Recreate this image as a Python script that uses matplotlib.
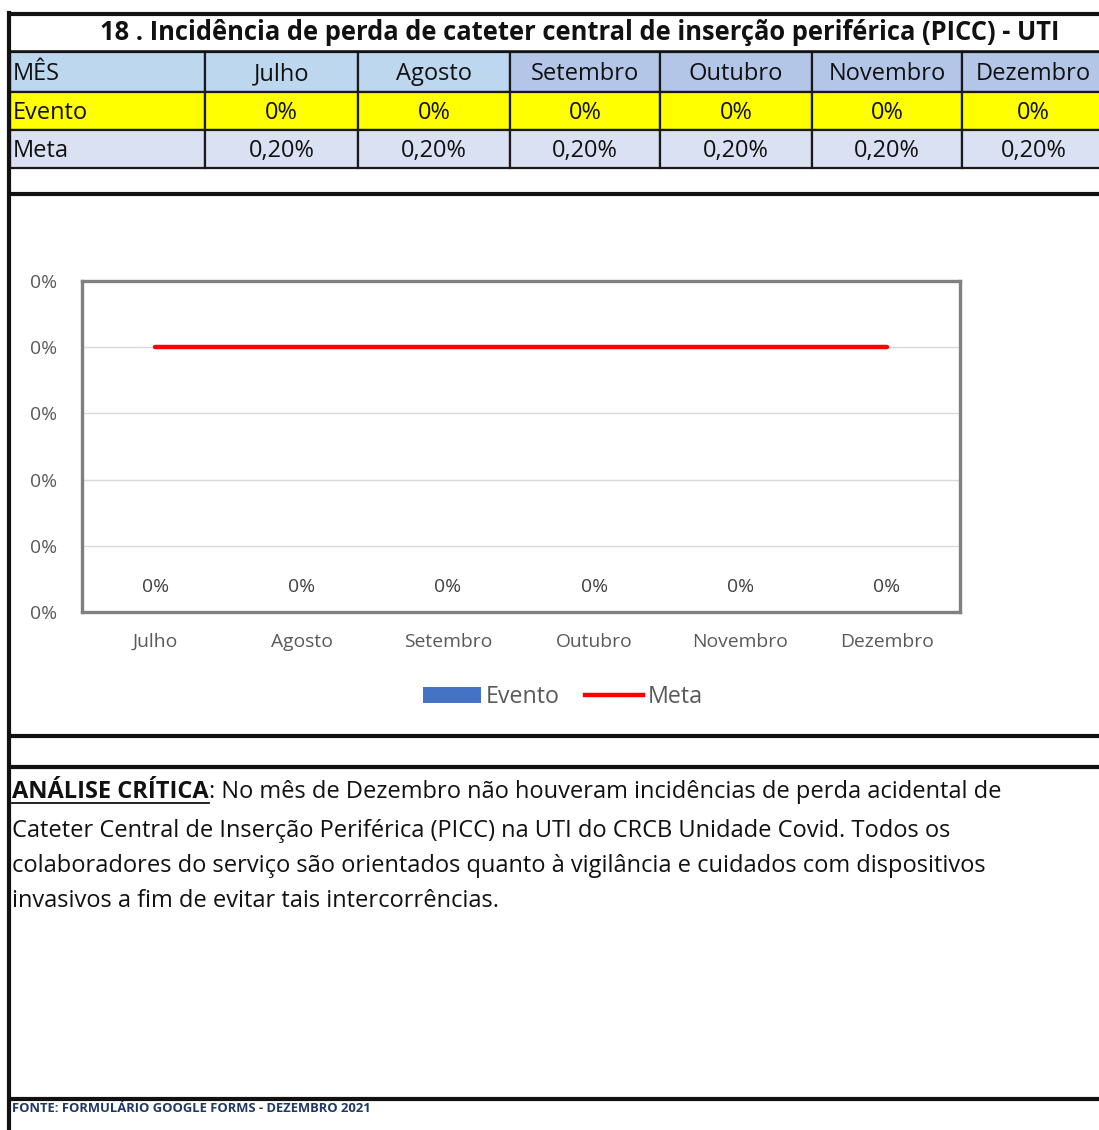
import matplotlib
matplotlib.use("Agg")
import matplotlib.pyplot as plt
from matplotlib.patches import Rectangle, Patch
from matplotlib.lines import Line2D
from matplotlib.ticker import FuncFormatter, MultipleLocator

plt.rcParams['font.family'] = ['Open Sans', 'DejaVu Sans']

# ---------------- data ----------------
title = "18 . Incidência de perda de cateter central de inserção periférica (PICC) - UTI"
months = ["Julho", "Agosto", "Setembro", "Outubro", "Novembro", "Dezembro"]
evento = [0.0, 0.0, 0.0, 0.0, 0.0, 0.0]            # fraction
meta = [0.002, 0.002, 0.002, 0.002, 0.002, 0.002]  # fraction (0,20%)
evento_labels = ["0%", "0%", "0%", "0%", "0%", "0%"]
meta_labels = ["0,20%", "0,20%", "0,20%", "0,20%", "0,20%", "0,20%"]
row_names = ["MÊS", "Evento", "Meta"]
analysis_head = "ANÁLISE CRÍTICA"
analysis_lines = [
    ": No mês de Dezembro não houveram incidências de perda acidental de",
    "Cateter Central de Inserção Periférica (PICC) na UTI do CRCB Unidade Covid. Todos os",
    "colaboradores do serviço são orientados quanto à vigilância e cuidados com dispositivos",
    "invasivos a fim de evitar tais intercorrências.",
]
source = "FONTE: FORMULÁRIO GOOGLE FORMS - DEZEMBRO 2021"

W, H = 1099, 1130
fig = plt.figure(figsize=(W / 100, H / 100), dpi=100)
renderer = fig.canvas.get_renderer()


def text_width(s, size=10, weight='normal'):
    t = fig.text(0, 0, s, fontsize=size, fontweight=weight)
    w = t.get_window_extent(renderer).width
    t.remove()
    return w


def fit(s, target, weight='normal'):
    return 10 * target / text_width(s, 10, weight)


fs_title = fit(title, 960, 'bold')
fs_table = fit("Setembro", 108)
fs_tick = fit("Setembro", 88)
fs_legend = fit("Evento", 74)
fs_src = fit(source, 358, 'bold')
fs_an = 10 * 990 / (text_width(analysis_head, 10, 'bold') + text_width(analysis_lines[0], 10))

bg = fig.add_axes([0, 0, 1, 1])
bg.set_xlim(0, W)
bg.set_ylim(H, 0)
bg.axis('off')

# ---------------- table ----------------
col_x = [10, 205, 358, 510, 660, 812, 962, 1105]
row_y = [52, 92, 130, 168]
hdr_colors = ["#BDD7EE", "#BDD7EE", "#BDD7EE", "#B4C6E7", "#B4C6E7", "#B4C6E7", "#B4C6E7"]
row_colors = [None, "#FFFF00", "#D9E1F2"]
dy = 2
for r in range(3):
    for c in range(7):
        col = hdr_colors[c] if r == 0 else row_colors[r]
        bg.add_patch(Rectangle((col_x[c], row_y[r]), col_x[c + 1] - col_x[c],
                               row_y[r + 1] - row_y[r], facecolor=col,
                               edgecolor='#1a1a1a', lw=1.6, zorder=1))
    bg.text(13, (row_y[r] + row_y[r + 1]) / 2 + dy, row_names[r], ha='left', va='center',
            fontsize=fs_table, color='#111111', zorder=3)
for c in range(6):
    cx = (col_x[c + 1] + col_x[c + 2]) / 2
    bg.text(cx, (row_y[0] + row_y[1]) / 2 + dy, months[c], ha='center', va='center',
            fontsize=fs_table, color='#111111', zorder=3)
    bg.text(cx, (row_y[1] + row_y[2]) / 2 + dy, evento_labels[c], ha='center', va='center',
            fontsize=fs_table, color='#111111', zorder=3)
    bg.text(cx, (row_y[2] + row_y[3]) / 2 + dy, meta_labels[c], ha='center', va='center',
            fontsize=fs_table, color='#111111', zorder=3)

bg.text(580, 33, title, ha='center', va='center', fontsize=fs_title, fontweight='bold',
        color='#111111')

# frame lines
for y, lw in [(14, 3), (51, 1.8), (194, 3), (736, 3), (767, 3), (1099, 3)]:
    bg.plot([8, W], [y, y], color='#111111', lw=lw, solid_capstyle='butt', zorder=4)
bg.plot([9, 9], [13, H], color='#111111', lw=3, zorder=4)

# ---------------- chart ----------------
x0, x1, y0, y1 = 82, 960, 281, 612
ax = fig.add_axes([x0 / W, 1 - y1 / H, (x1 - x0) / W, (y1 - y0) / H])
xs = list(range(len(months)))
ax.bar(xs, evento, width=0.5, color='#4472C4', label='Evento', zorder=2)
ax.plot(xs, meta, color='#FF0000', lw=3.2, solid_capstyle='round', label='Meta', zorder=3)
for xi, v in zip(xs, evento):
    ax.annotate(f"{v*100:.0f}%", (xi, v), xytext=(0, 18), textcoords='offset points',
                ha='center', va='center', fontsize=fs_tick, color='#404040')
ax.set_xlim(-0.5, len(months) - 0.5)
ax.set_ylim(0, 0.0025)
ax.yaxis.set_major_locator(MultipleLocator(0.0005))
ax.yaxis.set_major_formatter(FuncFormatter(lambda v, p: f"{v*100:.0f}%"))
ax.set_xticks(xs)
ax.set_xticklabels(months)
ax.tick_params(axis='both', length=0, labelsize=fs_tick, labelcolor='#595959')
ax.tick_params(axis='y', pad=18)
ax.tick_params(axis='x', pad=15)
ax.grid(axis='y', color='#D9D9D9', lw=1)
ax.set_axisbelow(True)
for s in ax.spines.values():
    s.set_color('#808080')
    s.set_linewidth(2.4)

handles = [Patch(facecolor='#4472C4', label='Evento'),
           Line2D([0], [0], color='#FF0000', lw=3.2, label='Meta')]
fig.legend(handles=handles, loc='center', bbox_to_anchor=(563 / W, 1 - 697 / H), ncol=2,
           frameon=False, fontsize=fs_legend, labelcolor='#595959', handlelength=2.5,
           handletextpad=0.2, columnspacing=1.1)

# ---------------- analysis ----------------
t = bg.text(12, 792, analysis_head, ha='left', va='center', fontsize=fs_an, fontweight='bold',
            color='#111111')
fig.canvas.draw()
bb = t.get_window_extent()
hx0, hx1 = bb.x0, bb.x1
bg.plot([hx0, hx1], [803, 803], color='#111111', lw=1.3)
bg.text(hx1, 792, analysis_lines[0], ha='left', va='center', fontsize=fs_an, color='#111111')
for i, line in enumerate(analysis_lines[1:]):
    bg.text(12, 831 + 35 * i, line, ha='left', va='center', fontsize=fs_an, color='#111111')

bg.text(12, 1108, source, ha='left', va='center', fontsize=fs_src, fontweight='bold',
        color='#1F3864')

fig.savefig('out.png', dpi=100)
